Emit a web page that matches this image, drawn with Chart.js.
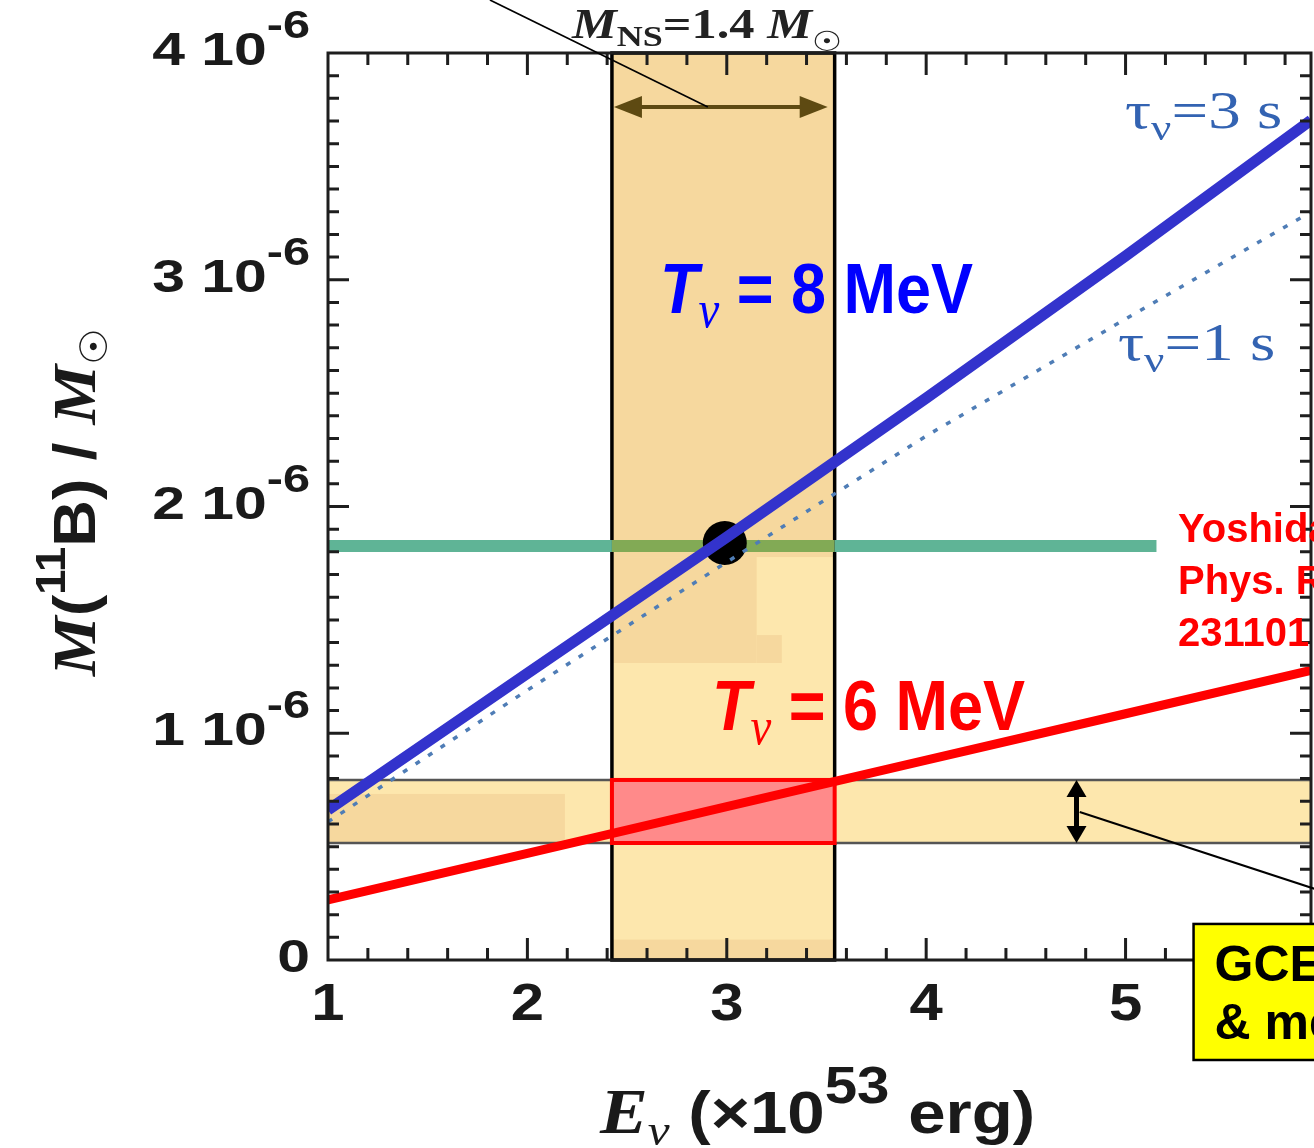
<!DOCTYPE html>
<html>
<head>
<meta charset="utf-8">
<script src="https://cdn.jsdelivr.net/npm/chart.js@4.4.1/dist/chart.umd.min.js"></script>
<style>
  html, body { margin: 0; padding: 0; background: #fff; overflow: hidden; }
  canvas { display: block; }
</style>
</head>
<body>
<canvas id="chart" width="1314" height="1148"></canvas>
<script>
// M(11B)/Msun values are in units of 1e-6, E_nu in units of 1e53 erg
const energy = [1, 2, 3, 4, 5, 5.93];
const b11Tnu8Tau3 = [0.662, 1.264, 1.865, 2.478, 3.105, 3.704];
const b11Tnu8Tau1 = [0.609, 1.190, 1.755, 2.311, 2.827, 3.299];
const b11Tnu6 = [0.265, 0.470, 0.676, 0.881, 1.086, 1.277];

const observedB11 = 1.826;
const observedRangeE = [0.98, 5.155];
const bestPoint = [2.99, 1.839];
const nsMassBandE = [2.424, 3.541];   // M_NS = 1.4 Msun
const gceBandM = [0.516, 0.794];      // GCE & meteorite

const xTickValues = [1, 2, 3, 4, 5];
const xTickLabels = ['1', '2', '3', '4', '5'];
const yTickValues = [0, 1, 2, 3, 4];
const yTickLabels = ['0', '1', '2', '3', '4'];

const SANS = '"Liberation Sans", Arial, sans-serif';
const SERIF = '"Liberation Serif", "Times New Roman", serif';
const SYM = '"DejaVu Sans", sans-serif';

function pts(xs, ys) {
    return xs.map((x, i) => ({ x: x, y: ys[i] }));
}

function richText(ctx, parts, x, y, opt) {
    opt = opt || {};
    const sx = opt.sx || 1;
    ctx.save();
    ctx.textBaseline = 'alphabetic';
    ctx.textAlign = 'left';
    let w = 0;
    parts.forEach(p => { ctx.font = p.font; p.w = ctx.measureText(p.text).width; w += p.w; });
    ctx.translate(x, y);
    if (opt.rotate) ctx.rotate(opt.rotate);
    ctx.scale(sx, 1);
    let cx = opt.align === 'right' ? -w : (opt.align === 'center' ? -w / 2 : 0);
    parts.forEach(p => {
        ctx.font = p.font;
        ctx.fillStyle = p.color || opt.color || '#1a1a1a';
        ctx.fillText(p.text, cx, p.dy || 0);
        cx += p.w;
    });
    ctx.restore();
}

function arrowHead(ctx, x, y, angle, len, half) {
    ctx.save();
    ctx.translate(x, y);
    ctx.rotate(angle);
    ctx.beginPath();
    ctx.moveTo(0, 0);
    ctx.lineTo(-len, -half);
    ctx.lineTo(-len, half);
    ctx.closePath();
    ctx.fill();
    ctx.restore();
}

// ################################################################################################
function drawBands(chart) {
    const ctx = chart.ctx;
    const a = chart.chartArea;
    const X = v => chart.scales.x.getPixelForValue(v);
    const Y = v => chart.scales.y.getPixelForValue(v);
    const light = '#fde7ad', dark = '#f6d89e';

    ctx.save();
    // vertical band
    const x0 = X(nsMassBandE[0]), x1 = X(nsMassBandE[1]);
    ctx.fillStyle = light;
    ctx.fillRect(x0, a.top, x1 - x0, a.bottom - a.top);
    ctx.fillStyle = dark;
    ctx.fillRect(x0, a.top, x1 - x0, Y(1.777) - a.top);
    ctx.fillRect(x0, Y(1.777), X(3.15) - x0, Y(1.31) - Y(1.777));
    ctx.fillRect(X(3.15), Y(1.433), X(3.276) - X(3.15), Y(1.31) - Y(1.433));
    ctx.fillRect(x0, Y(0.09), x1 - x0, a.bottom - Y(0.09));
    ctx.strokeStyle = '#000';
    ctx.lineWidth = 3.5;
    ctx.strokeRect(x0, a.top, x1 - x0, a.bottom - a.top);

    // horizontal band
    const yTop = Y(gceBandM[1]), yBot = Y(gceBandM[0]);
    ctx.fillStyle = light;
    ctx.fillRect(a.left, yTop, a.right - a.left, yBot - yTop);
    ctx.fillStyle = dark;
    ctx.fillRect(a.left, yTop + 14, X(2.188) - a.left, yBot - yTop - 14);
    ctx.strokeStyle = '#555';
    ctx.lineWidth = 2.5;
    ctx.beginPath();
    ctx.moveTo(a.left, yTop); ctx.lineTo(a.right, yTop);
    ctx.moveTo(a.left, yBot); ctx.lineTo(a.right, yBot);
    ctx.stroke();

    // overlap of both bands
    ctx.fillStyle = '#ff8a8a';
    ctx.fillRect(x0, yTop, x1 - x0, yBot - yTop);
    ctx.strokeStyle = '#ff0000';
    ctx.lineWidth = 4;
    ctx.strokeRect(x0, yTop, x1 - x0, yBot - yTop);
    ctx.restore();
}

function drawFrame(chart) {
    const ctx = chart.ctx;
    const a = chart.chartArea;
    const X = v => chart.scales.x.getPixelForValue(v);
    const Y = v => chart.scales.y.getPixelForValue(v);

    ctx.save();
    ctx.strokeStyle = '#1e1e1e';
    ctx.lineWidth = 3;
    ctx.strokeRect(a.left, a.top, a.right - a.left, a.bottom - a.top);
    ctx.beginPath();
    for (let i = 1; i * 0.2 + 1 < 5.93; i++) {
        const v = 1 + i * 0.2;
        const len = (i % 5 === 0) ? 22 : 12;
        const px = X(v);
        ctx.moveTo(px, a.top); ctx.lineTo(px, a.top + len);
        ctx.moveTo(px, a.bottom); ctx.lineTo(px, a.bottom - len);
    }
    for (let i = 1; i < 40; i++) {
        const len = (i % 10 === 0) ? 21 : 11;
        const py = Y(i * 0.1);
        ctx.moveTo(a.left, py); ctx.lineTo(a.left + len, py);
        ctx.moveTo(a.right, py); ctx.lineTo(a.right - len, py);
    }
    ctx.stroke();

    // tick labels
    yTickValues.forEach((v, i) => {
        const parts = [{ text: yTickLabels[i] + (v === 0 ? '' : ' 10'), font: 'bold 46px ' + SANS }];
        if (v !== 0) parts.push({ text: '-6', font: 'bold 38px ' + SANS, dy: -27 });
        richText(ctx, parts, a.left - 18, Y(v) + 12, { align: 'right', sx: 1.28 });
    });
    xTickValues.forEach((v, i) => {
        richText(ctx, [{ text: xTickLabels[i], font: 'bold 52px ' + SANS }], X(v), 1020, { align: 'center', sx: 1.15 });
    });

    // axis titles
    richText(ctx, [
        { text: 'E', font: 'italic bold 64px ' + SERIF },
        { text: 'ν', font: 'italic 44px ' + SERIF, dy: 12 },
        { text: ' (×10', font: 'bold 60px ' + SANS },
        { text: '53', font: 'bold 52px ' + SANS, dy: -30 },
        { text: ' erg)', font: 'bold 60px ' + SANS }
    ], 600, 1133, { sx: 1.12 });
    richText(ctx, [
        { text: 'M', font: 'italic bold 62px ' + SERIF },
        { text: '(', font: 'bold 60px ' + SANS },
        { text: '11', font: 'bold 42px ' + SANS, dy: -30 },
        { text: 'B) / ', font: 'bold 60px ' + SANS },
        { text: 'M', font: 'italic bold 62px ' + SERIF },
        { text: '☉', font: '38px ' + SYM, dy: 12 }
    ], 95, 502, { align: 'center', rotate: -Math.PI / 2, sx: 1.08 });
    ctx.restore();
}

function drawNotes(chart) {
    const ctx = chart.ctx;
    const X = v => chart.scales.x.getPixelForValue(v);
    const Y = v => chart.scales.y.getPixelForValue(v);

    ctx.save();
    // M_NS arrow
    const ay = Y(3.762);
    const ax0 = X(nsMassBandE[0]) + 2, ax1 = X(3.506);
    ctx.strokeStyle = '#5e4a12';
    ctx.fillStyle = '#5e4a12';
    ctx.lineWidth = 4;
    ctx.beginPath();
    ctx.moveTo(ax0 + 20, ay); ctx.lineTo(ax1 - 20, ay);
    ctx.stroke();
    arrowHead(ctx, ax0, ay, Math.PI, 28, 11);
    arrowHead(ctx, ax1, ay, 0, 28, 11);

    ctx.strokeStyle = '#000';
    ctx.lineWidth = 1.6;
    ctx.beginPath();
    ctx.moveTo(X(1.812), Y(4.234)); ctx.lineTo(X(2.905), Y(3.762));
    ctx.stroke();

    // GCE band arrow
    const vx = X(4.754);
    const vy0 = Y(gceBandM[1]), vy1 = Y(gceBandM[0]);
    ctx.fillStyle = '#000';
    ctx.lineWidth = 5;
    ctx.beginPath();
    ctx.moveTo(vx, vy0 + 12); ctx.lineTo(vx, vy1 - 12);
    ctx.stroke();
    arrowHead(ctx, vx, vy0, -Math.PI / 2, 17, 10);
    arrowHead(ctx, vx, vy1, Math.PI / 2, 17, 10);
    ctx.lineWidth = 2;
    ctx.beginPath();
    ctx.moveTo(X(4.77), Y(0.653)); ctx.lineTo(X(6.1), Y(0.27));
    ctx.stroke();

    // GCE box
    const bx = X(5.341), by = Y(0.159), bh = Y(-0.441) - by;
    ctx.fillStyle = '#ffff00';
    ctx.fillRect(bx, by, 400, bh);
    ctx.lineWidth = 2.5;
    ctx.strokeRect(bx, by, 400, bh);
    richText(ctx, [{ text: 'GCE', font: 'bold 50px ' + SANS }], bx + 21, by + 57, { color: '#000' });
    richText(ctx, [{ text: '& meteorite', font: 'bold 50px ' + SANS }], bx + 21, by + 115, { color: '#000' });

    // labels
    richText(ctx, [
        { text: 'M', font: 'italic bold 42px ' + SERIF },
        { text: 'NS', font: 'bold 30px ' + SERIF, dy: 8 },
        { text: '=1.4 ', font: 'bold 42px ' + SERIF },
        { text: 'M', font: 'italic bold 42px ' + SERIF },
        { text: '☉', font: '28px ' + SYM, dy: 13 }
    ], 572, 38, { sx: 1.2, color: '#222' });

    const tauColor = '#3363b2';
    richText(ctx, [
        { text: 'τ', font: '52px ' + SERIF },
        { text: 'ν', font: '36px ' + SERIF, dy: 12 },
        { text: '=3 s', font: '52px ' + SERIF }
    ], 1125, 128, { sx: 1.25, color: tauColor });
    richText(ctx, [
        { text: 'τ', font: '52px ' + SERIF },
        { text: 'ν', font: '36px ' + SERIF, dy: 12 },
        { text: '=1 s', font: '52px ' + SERIF }
    ], 1118, 360, { sx: 1.25, color: tauColor });

    const tParts = (val) => [
        { text: 'T', font: 'italic bold 70px ' + SANS },
        { text: 'ν', font: 'italic 52px ' + SERIF, dy: 14 },
        { text: ' = ' + val + ' MeV', font: 'bold 70px ' + SANS }
    ];
    richText(ctx, tParts('8'), 660, 313, { sx: 0.9, color: '#0000ff' });
    richText(ctx, tParts('6'), 712, 730, { sx: 0.9, color: '#ff0000' });

    const ref = ['Yoshida et al.,', 'Phys. Rev. Lett. 96,', '231101 (2006)'];
    ref.forEach((line, i) => {
        richText(ctx, [{ text: line, font: 'bold 40px ' + SANS }], 1178, 542 + i * 52, { color: '#ff0000' });
    });
    ctx.restore();
}

const overlay = {
    id: 'overlay',
    beforeDatasetsDraw(chart) { drawBands(chart); },
    afterDatasetsDraw(chart) { drawFrame(chart); drawNotes(chart); }
};

// ################################################################################################
const teal = 'rgb(95, 180, 150)';
const olive = 'rgb(130, 170, 85)';

new Chart(document.getElementById('chart'), {
    type: 'line',
    data: {
        datasets: [{
            label: 'Observed',
            data: pts([observedRangeE[0], nsMassBandE[0], nsMassBandE[1], observedRangeE[1]],
                      [observedB11, observedB11, observedB11, observedB11]),
            borderColor: teal,
            borderWidth: 12,
            pointRadius: 0,
            segment: { borderColor: c => c.p0DataIndex === 1 ? olive : teal },
            order: 5
        }, {
            label: 'Best',
            data: [{ x: bestPoint[0], y: bestPoint[1] }],
            showLine: false,
            pointRadius: 22,
            pointBackgroundColor: '#000',
            pointBorderWidth: 0,
            order: 4
        }, {
            label: 'tau 1 s',
            data: pts(energy, b11Tnu8Tau1),
            borderColor: '#4f7db6',
            borderWidth: 3.5,
            borderDash: [5, 10],
            pointRadius: 0,
            order: 3
        }, {
            label: 'T 6 MeV',
            data: pts(energy, b11Tnu6),
            borderColor: '#ff0000',
            borderWidth: 9,
            pointRadius: 0,
            order: 2
        }, {
            label: 'T 8 MeV',
            data: pts(energy, b11Tnu8Tau3),
            borderColor: '#3333cc',
            borderWidth: 11,
            pointRadius: 0,
            order: 1
        }]
    },
    options: {
        responsive: false,
        animation: false,
        devicePixelRatio: 1,
        events: [],
        layout: { autoPadding: false, padding: { left: 328, right: 3, top: 53, bottom: 188 } },
        plugins: { legend: { display: false }, tooltip: { enabled: false } },
        scales: {
            x: { type: 'linear', min: 1, max: 5.93, display: false },
            y: { type: 'linear', min: 0, max: 4, display: false }
        }
    },
    plugins: [overlay]
});
</script>
</body>
</html>
